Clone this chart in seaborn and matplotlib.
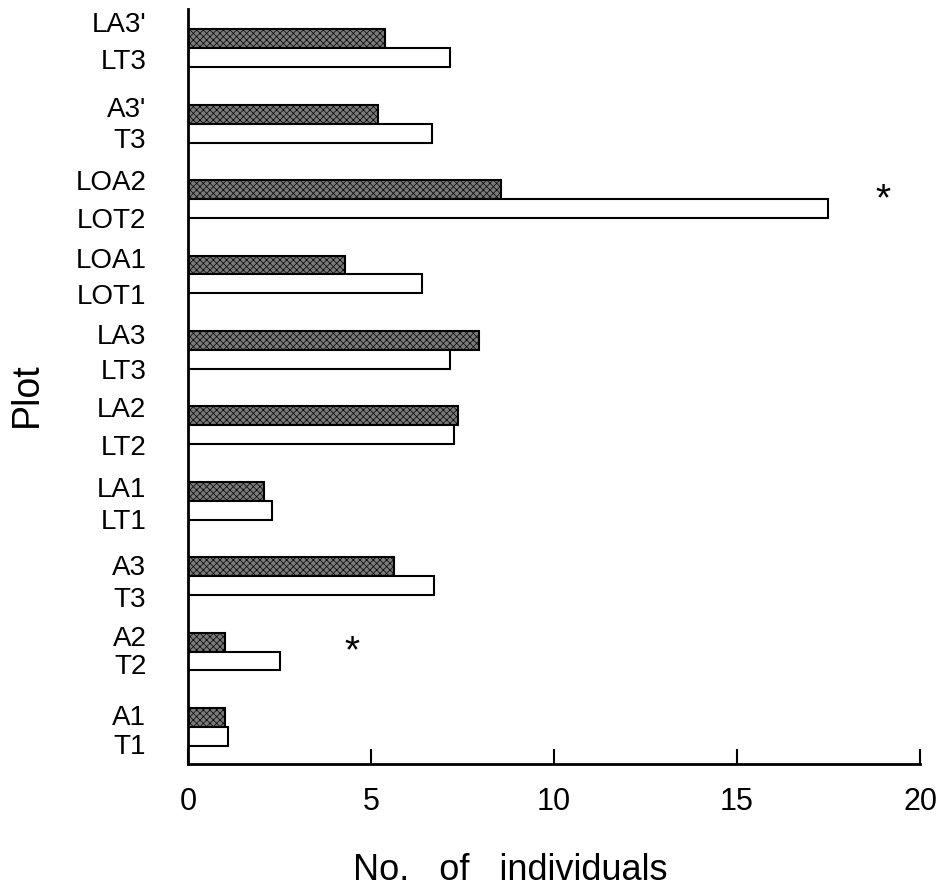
import numpy as np
import pandas as pd
import matplotlib
matplotlib.use("Agg")
import matplotlib.pyplot as plt
import matplotlib.transforms as mtransforms
import seaborn as sns

# ---- data (top group to bottom group) ----
upper_labels = ["LA3'", "A3'", "LOA2", "LOA1", "LA3", "LA2", "LA1", "A3", "A2", "A1"]
lower_labels = ["LT3", "T3", "LOT2", "LOT1", "LT3", "LT2", "LT1", "T3", "T2", "T1"]
upper_values = [5.38, 5.19, 8.55, 4.29, 7.95, 7.38, 2.08, 5.63, 1.01, 1.01]
lower_values = [7.16, 6.67, 17.49, 6.39, 7.16, 7.27, 2.30, 6.72, 2.51, 1.10]
x_ticks = [0, 5, 10, 15, 20]
star_groups = [2, 8]
star_x = [19.0, 4.48]

group_ids = [f"{u}/{l}" for u, l in zip(upper_labels, lower_labels)]
df = pd.DataFrame({
    "group": group_ids * 2,
    "kind": ["A"] * len(group_ids) + ["T"] * len(group_ids),
    "count": upper_values + lower_values,
})

sns.set_theme(style="white")
plt.rcParams["font.family"] = ["Liberation Sans", "DejaVu Sans"]
plt.rcParams["hatch.linewidth"] = 0.5
plt.rcParams["hatch.color"] = "black"

fig = plt.figure(figsize=(9.38, 8.87), dpi=100)
ax = fig.add_axes([188 / 938, 1 - 765 / 887, 732 / 938, 755 / 887])

sns.barplot(data=df, x="count", y="group", hue="kind", hue_order=["A", "T"],
            order=group_ids, orient="h", palette={"A": "#7a7a7a", "T": "white"},
            width=0.5, dodge=True, errorbar=None, edgecolor="black",
            linewidth=1.5, saturation=1, legend=False, ax=ax)

for bar in ax.containers[0]:
    bar.set_hatch("xxxxx")

ax.set_xlim(0, 20)
ax.set_ylim(len(group_ids) - 0.51, -0.52)

# y tick labels: one per bar
yt, yl = [], []
for i, (u, l) in enumerate(zip(upper_labels, lower_labels)):
    yt += [i - 0.125, i + 0.125]
    yl += [u, l]
ax.set_yticks(yt, yl)
ax.tick_params(axis="y", length=0, pad=30, labelsize=20, colors="black")

ax.set_xticks(x_ticks, [str(t) for t in x_ticks])
ax.tick_params(axis="x", direction="in", length=11, width=1.5, pad=16,
               labelsize=22, colors="black", bottom=True)

sns.despine(ax=ax)
for s in ["left", "bottom"]:
    ax.spines[s].set_linewidth(2)
    ax.spines[s].set_color("black")

ax.set_xlabel("No.   of   individuals", fontsize=26, color="black")
ax.set_ylabel("Plot", fontsize=27, color="black")
ax.xaxis.set_label_coords(0.44, -0.116)
ax.yaxis.set_label_coords(-0.195, 0.49)

for g, x in zip(star_groups, star_x):
    ax.text(x, g, "*", fontsize=28, ha="center", va="center", color="black")

# shift paired labels apart (pixels, positive = downward)
label_dy = [-18, 0, -8, 4, -11, 9, -8, 9, -7, 9, -10, 9, -5, 8, -3, 10, -7, 2, -4, 7]
for lab, dy in zip(ax.get_yticklabels(), label_dy):
    lab.set_transform(lab.get_transform() +
                      mtransforms.ScaledTranslation(0, -dy / 100, fig.dpi_scale_trans))

fig.savefig("out.png", dpi=100, facecolor="white")
